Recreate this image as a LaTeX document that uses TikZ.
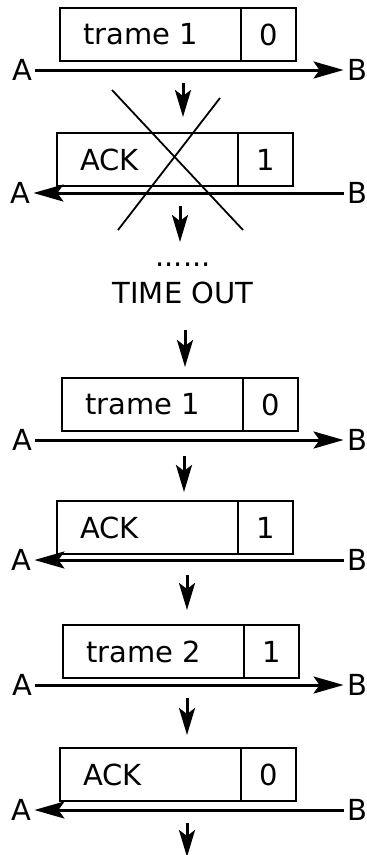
\documentclass[tikz,border=0pt]{standalone}
\usepackage{fontspec}
\setmainfont{DejaVu Sans}
\usetikzlibrary{arrows.meta,positioning}
\begin{document}
\begin{tikzpicture}[x=1pt, y={(0pt,-1pt)},
  every node/.style={font=\fontsize{29}{34}\selectfont, inner sep=2pt, outer sep=1.5pt},
  frame/.style={draw, line width=1.8pt, minimum height=53pt, text width=135pt,
    inner xsep=23pt, outer sep=0pt, align=left, anchor=north west},
  seqno/.style={draw, line width=1.8pt, minimum height=53pt, minimum width=55pt,
    inner sep=0pt, outer sep=0pt},
  send/.style={line width=3pt, -{Stealth[length=30pt, width=17pt, inset=6pt]}},
  next/.style={line width=3pt, -{Stealth[length=27pt, width=16pt, inset=6pt]}}]
\useasboundingbox (0,0) rectangle (367,855);
% trame 1 -> B
\node[frame] (fr1) at (60,8) {trame 1};
\node[seqno, right=0pt of fr1] (nb1) {0};
\node (a1) at (22,70) {A};
\node (b1) at (357,70) {B};
\draw[send] (a1) -- (b1);
\coordinate (s1) at (183,83);
\draw[next] (s1) -- ++(0,34);
% ACK perdu
\node[frame] (fr2) at (57,133) {ACK};
\node[seqno, right=0pt of fr2] (nb2) {1};
\node (a2) at (20,193) {A};
\node (b2) at (357,193) {B};
\draw[send] (b2) -- (a2);
\draw[line width=1.8pt] (112,90) -- (243,230);
\draw[line width=1.8pt] (220,98) -- (118,230);
\coordinate (s2) at (180,206);
\draw[next] (s2) -- ++(0,36);
\node (dots) at (183,265) {......};
\node (tout) at (183,293) {TIME OUT};
\coordinate (s3) at (185,330);
\draw[next] (s3) -- ++(0,37);
% trame 1 again
\node[frame] (fr3) at (62,378) {trame 1};
\node[seqno, right=0pt of fr3] (nb3) {0};
\node (a3) at (22,440) {A};
\node (b3) at (357,440) {B};
\draw[send] (a3) -- (b3);
\coordinate (s4) at (184,456);
\draw[next] (s4) -- ++(0,36);
% ACK 1
\node[frame] (fr4) at (57,501) {ACK};
\node[seqno, right=0pt of fr4] (nb4) {1};
\node (a4) at (21,560) {A};
\node (b4) at (357,560) {B};
\draw[send] (b4) -- (a4);
\coordinate (s5) at (187,575);
\draw[next] (s5) -- ++(0,35);
% trame 2
\node[frame] (fr5) at (63,625) {trame 2};
\node[seqno, right=0pt of fr5] (nb5) {1};
\node (a5) at (22,685) {A};
\node (b5) at (357,685) {B};
\draw[send] (a5) -- (b5);
\coordinate (s6) at (187,698);
\draw[next] (s6) -- ++(0,37);
% ACK 0
\node[frame] (fr6) at (60,748) {ACK};
\node[seqno, right=0pt of fr6] (nb6) {0};
\node (a6) at (21,810) {A};
\node (b6) at (357,810) {B};
\draw[send] (b6) -- (a6);
\coordinate (s7) at (187,823);
\draw[next] (s7) -- ++(0,34);
\end{tikzpicture}
\end{document}
